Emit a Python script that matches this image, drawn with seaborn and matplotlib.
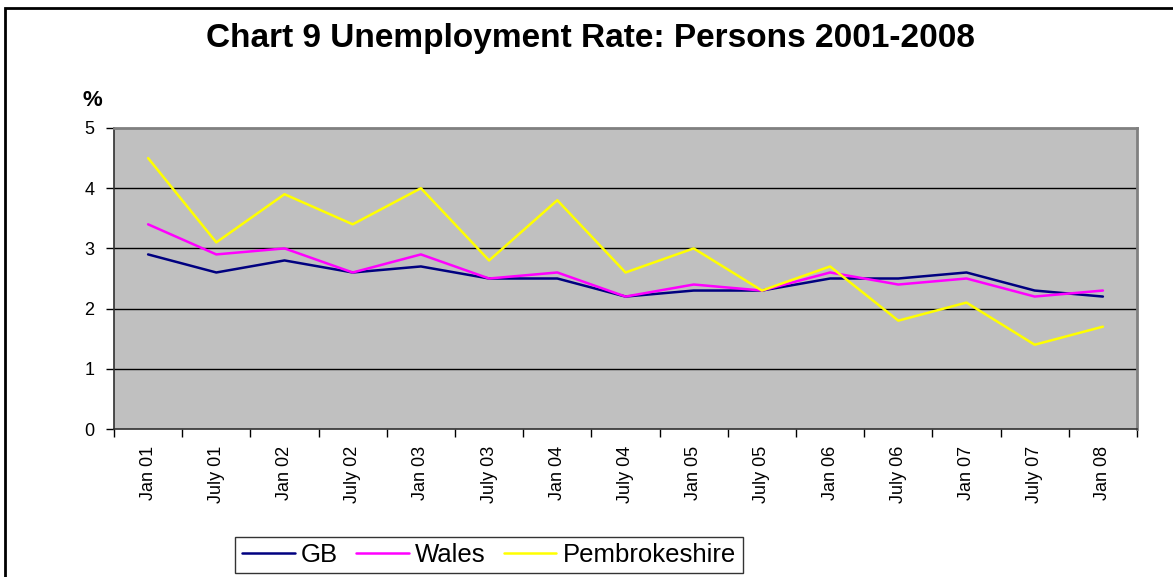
import matplotlib
matplotlib.use("Agg")
import matplotlib.pyplot as plt
import matplotlib.patches as mpatches
import seaborn as sns
import pandas as pd
import numpy as np

# data
periods = ['Jan 01', 'July 01', 'Jan 02', 'July 02', 'Jan 03', 'July 03', 'Jan 04', 'July 04',
           'Jan 05', 'July 05', 'Jan 06', 'July 06', 'Jan 07', 'July 07', 'Jan 08']
gb = [2.9, 2.6, 2.8, 2.6, 2.7, 2.5, 2.5, 2.2, 2.3, 2.3, 2.5, 2.5, 2.6, 2.3, 2.2]
wales = [3.4, 2.9, 3.0, 2.6, 2.9, 2.5, 2.6, 2.2, 2.4, 2.3, 2.6, 2.4, 2.5, 2.2, 2.3]
pembs = [4.5, 3.1, 3.9, 3.4, 4.0, 2.8, 3.8, 2.6, 3.0, 2.3, 2.7, 1.8, 2.1, 1.4, 1.7]
series = ['GB', 'Wales', 'Pembrokeshire']
colors = ['#000080', '#FF00FF', '#FFFF00']

df = pd.DataFrame({
    'pos': list(range(len(periods))) * 3,
    'rate': gb + wales + pembs,
    'area': [s for s in series for _ in periods],
})

sns.set_style("white")
plt.rcParams['font.family'] = ['Liberation Sans', 'DejaVu Sans']
plt.rcParams['text.color'] = 'black'
plt.rcParams['xtick.color'] = 'black'
plt.rcParams['ytick.color'] = 'black'

fig = plt.figure(figsize=(11.73, 5.77), dpi=100)
ax = fig.add_axes([114 / 1173, 1 - 429 / 577, (1137 - 114) / 1173, (429 - 128) / 577])
ax.set_facecolor('#C0C0C0')

sns.lineplot(data=df, x='pos', y='rate', hue='area', hue_order=series,
             palette=dict(zip(series, colors)), linewidth=1.8, ax=ax, legend=False)

ax.set_xlim(-0.5, len(periods) - 0.5)
ax.set_ylim(0, 5)
ax.set_yticks(range(6))
ax.set_yticklabels([str(i) for i in range(6)], fontsize=13)
for y in range(1, 5):
    ax.axhline(y, color='black', linewidth=1, zorder=1)

# category ticks between points, labels at points
ax.set_xticks(np.arange(-0.5, len(periods), 1.0))
ax.set_xticklabels([])
ax.set_xticks(range(len(periods)), minor=True)
ax.set_xticklabels(periods, minor=True, rotation=90, fontsize=13)
ax.tick_params(axis='x', which='major', direction='out', length=6, width=1, color='black', bottom=True)
ax.tick_params(axis='x', which='minor', length=0, pad=12)
ax.tick_params(axis='y', direction='out', length=6, width=1, color='black', left=True, pad=8)
ax.set_xlabel('')
ax.set_ylabel('')

for side in ['top', 'right']:
    ax.spines[side].set_color('#808080')
    ax.spines[side].set_linewidth(2)
for side in ['left', 'bottom']:
    ax.spines[side].set_color('#303030')
    ax.spines[side].set_linewidth(1.2)

fig.text(590 / 1173, 1 - 38 / 577, 'Chart 9 Unemployment Rate: Persons 2001-2008',
         ha='center', va='center', fontsize=24, fontweight='bold')
fig.text(92 / 1173, 1 - 101 / 577, '%', ha='center', va='center', fontsize=16, fontweight='bold')

handles = [plt.Line2D([], [], color=c, linewidth=1.8) for c in colors]
leg = fig.legend(handles, series, loc='center', bbox_to_anchor=(489 / 1173, 1 - 555 / 577),
                 ncol=3, fontsize=18.5, frameon=True, fancybox=False, handlelength=2.05,
                 handletextpad=0.25, columnspacing=0.7, borderpad=0.25, borderaxespad=0)
leg.get_frame().set_edgecolor('black')
leg.get_frame().set_linewidth(1)

# outer chart border (left and top visible)
fig.patches.append(mpatches.Rectangle((5 / 1173, -0.1), 1.2, 1 - 8 / 577 + 0.1,
                                      transform=fig.transFigure, fill=False,
                                      edgecolor='black', linewidth=2))

fig.savefig('out.png', dpi=100)
